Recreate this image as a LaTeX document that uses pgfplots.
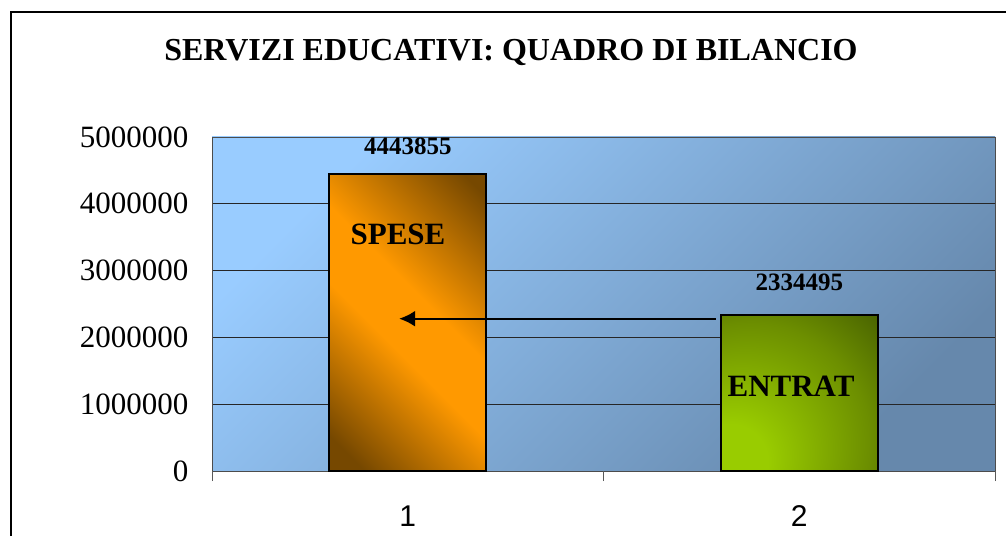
\documentclass[border=0pt]{standalone}
\usepackage{fontspec}
\setmainfont{Liberation Serif}
\newfontfamily\arialfont{Liberation Sans}
\usepackage{pgfplots}
\pgfplotsset{compat=1.18}
\usetikzlibrary{arrows.meta}
\definecolor{bgtop}{RGB}{153,204,255}
\definecolor{bgbot}{RGB}{102,136,172}
\definecolor{orng}{RGB}{255,153,0}
\definecolor{brwn}{RGB}{118,72,0}
\definecolor{grnlight}{RGB}{153,204,0}
\definecolor{grnmid}{RGB}{108,142,0}
\definecolor{grndark}{RGB}{74,100,0}
\pgfdeclareverticalshading{orangebar}{100bp}{color(0bp)=(brwn); color(20bp)=(brwn); color(44bp)=(orng); color(56bp)=(orng); color(82bp)=(brwn); color(100bp)=(brwn)}
\pgfdeclareradialshading{greenbar}{\pgfpoint{-25bp}{-25bp}}{color(0bp)=(grnlight); color(12bp)=(grnlight); color(38bp)=(grnmid); color(52bp)=(grndark); color(100bp)=(grndark)}
\begin{document}
\begin{tikzpicture}
\begin{axis}[
  at={(212pt,65pt)}, anchor=south west,
  scale only axis,
  width=783pt, height=334pt,
  xmin=0.5, xmax=2.5,
  ymin=0, ymax=5000000,
  scaled y ticks=false,
  xtick={1,2}, xticklabels={1,2},
  ytick={0,1000000,2000000,3000000,4000000,5000000},
  yticklabels={0,1000000,2000000,3000000,4000000,5000000},
  major tick length=0pt,
  extra x ticks={0.5,1.5,2.5},
  extra x tick labels={},
  extra x tick style={major tick length=10pt, tick align=outside, tick pos=bottom, tick style={gray!70!black, line width=0.8pt}, grid=none},
  xticklabel style={font=\arialfont\fontsize{30}{36}\selectfont, yshift=-31pt},
  yticklabel style={font=\fontsize{31}{36}\selectfont, xshift=-20pt},
  /pgf/number format/assume math mode=true,
  ymajorgrids=true,
  major grid style={black!85, line width=0.8pt},
  x axis line style={black, line width=1pt},
  y axis line style={gray!60!black, line width=0.8pt},
  axis background/.style={shade, top color=bgtop, bottom color=bgbot, shading angle=45},
  point meta=explicit symbolic,
  nodes near coords,
  every node near coord/.append style={font=\fontsize{25}{30}\selectfont\bfseries, anchor=center},
  clip=false,
]
\addplot[ybar, bar width=157pt, bar shift=0pt, draw=black, line width=1.6pt,
  shading=orangebar, shading angle=-45,
  every node near coord/.append style={yshift=28pt}]
  coordinates {(1,4443855) [4443855]};
\addplot[ybar, bar width=157pt, bar shift=0pt, draw=black, line width=1.6pt,
  shading=greenbar,
  every node near coord/.append style={yshift=33pt}]
  coordinates {(2,2334495) [2334495]};
\draw[line width=2.2pt, -{Latex[length=16pt,width=16pt]}] (axis cs:1.787,2280000) -- (axis cs:0.978,2280000);
\node[font=\fontsize{31}{36}\selectfont\bfseries] at (axis cs:0.975,3548000) {SPESE};
\node[font=\fontsize{31}{36}\selectfont\bfseries] at (axis cs:1.979,1272000) {ENTRAT};
\end{axis}
\node[font=\fontsize{32}{38}\selectfont\bfseries] at (511pt,483pt) {SERVIZI EDUCATIVI: QUADRO DI BILANCIO};
\draw[line width=1.5pt] (11pt,0pt) -- (11pt,524pt) -- (1006pt,524pt);
\pgfresetboundingbox
\useasboundingbox (0pt,0pt) rectangle (1006pt,536pt);
\end{tikzpicture}
\end{document}
